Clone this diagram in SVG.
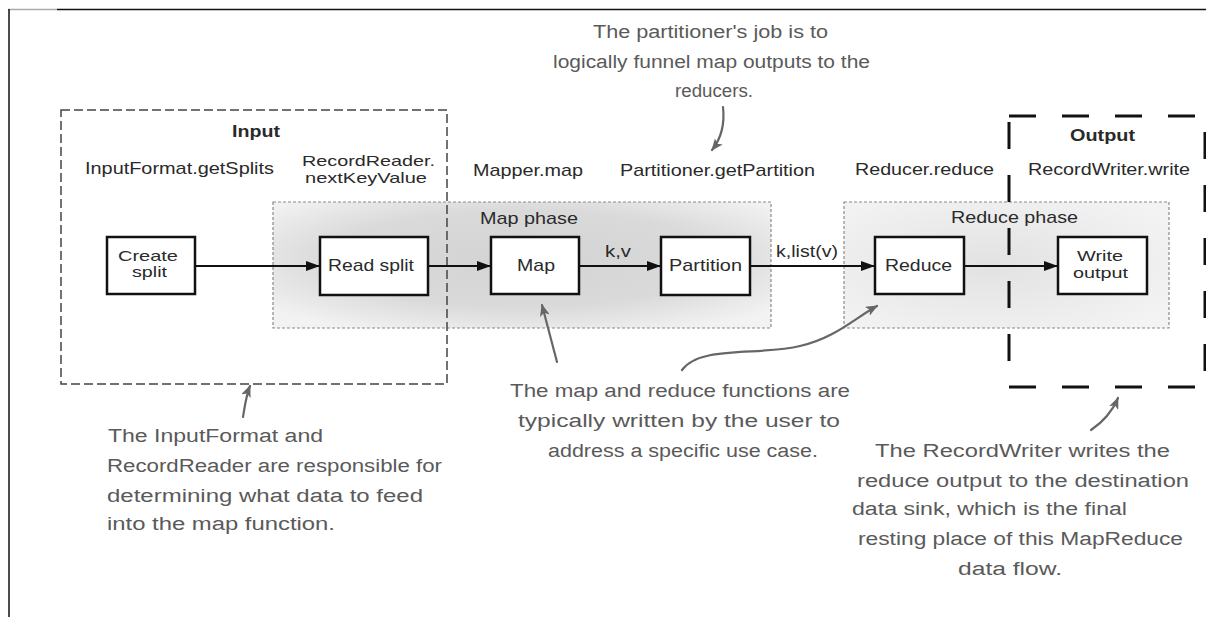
<svg xmlns="http://www.w3.org/2000/svg" width="1206" height="617" viewBox="0 0 1206 617">
<style>
.lbl{font-family:"Liberation Sans",Arial,sans-serif;font-size:17px;fill:#2a2a2a}
.two{font-size:15px}
.bold{font-weight:bold}
.note{font-family:"Liberation Sans",Arial,sans-serif;font-size:18px;fill:#5a5a5a}
.box{fill:#fff;stroke:#111;stroke-width:2.5}
.phase{stroke:#8a8a8a;stroke-width:1.2;stroke-dasharray:3 2}
.flow{stroke:#111;stroke-width:2;fill:none}
.hand{stroke:#666;stroke-width:2.2;fill:none;stroke-linecap:round}
</style>
<defs>
<marker id="ah" markerWidth="14" markerHeight="10" refX="14" refY="5" orient="auto" markerUnits="userSpaceOnUse">
<path d="M0,0 L14,5 L0,10 Z" fill="#111"/>
</marker>
<marker id="hh" markerWidth="12" markerHeight="10" refX="11" refY="5" orient="auto" markerUnits="userSpaceOnUse">
<path d="M0,0 L12,5 L0,10 L3,5 Z" fill="#666"/>
</marker>
<radialGradient id="gMap" cx="0.5" cy="0.45" r="0.65">
<stop offset="0" stop-color="#d3d3d3"/>
<stop offset="0.6" stop-color="#dadada"/>
<stop offset="1" stop-color="#f2f2f2"/>
</radialGradient>
<radialGradient id="gRed" cx="0.45" cy="0.5" r="0.65">
<stop offset="0" stop-color="#e2e2e2"/>
<stop offset="1" stop-color="#f3f3f3"/>
</radialGradient>
</defs>
<rect width="1206" height="617" fill="#fff"/>
<g id="frame">
<line x1="8" y1="9.5" x2="57" y2="9.5" stroke="#aaa" stroke-width="1.5"/>
<line x1="57" y1="9.5" x2="1206" y2="9.5" stroke="#111" stroke-width="1.5"/>
<line x1="9" y1="9" x2="9" y2="617" stroke="#111" stroke-width="1.5"/>
</g>
<g id="map-phase">
<rect x="273" y="202" width="498" height="126" fill="url(#gMap)" class="phase"/>
<text class="lbl" x="480" y="224" textLength="98" lengthAdjust="spacingAndGlyphs">Map phase</text>
</g>
<g id="reduce-phase">
<rect x="844" y="202" width="325" height="126" fill="url(#gRed)" class="phase"/>
<text class="lbl" x="951" y="223" textLength="127" lengthAdjust="spacingAndGlyphs">Reduce phase</text>
</g>
<g id="input-group">
<rect x="61" y="110" width="386" height="274" fill="none" stroke="#444" stroke-width="1.5" stroke-dasharray="9 4"/>
<text class="lbl bold" x="232" y="137" textLength="48" lengthAdjust="spacingAndGlyphs">Input</text>
<text class="lbl" x="85" y="174" textLength="189" lengthAdjust="spacingAndGlyphs">InputFormat.getSplits</text>
<text class="lbl two" x="302" y="166" textLength="133" lengthAdjust="spacingAndGlyphs">RecordReader.</text>
<text class="lbl two" x="305" y="183" textLength="122" lengthAdjust="spacingAndGlyphs">nextKeyValue</text>
</g>
<g id="output-group">
<rect x="1009" y="116" width="196" height="271" fill="none" stroke="#111" stroke-width="3" stroke-dasharray="27 26"/>
<text class="lbl bold" x="1070" y="141" textLength="65" lengthAdjust="spacingAndGlyphs">Output</text>
<text class="lbl" x="1028" y="175" textLength="162" lengthAdjust="spacingAndGlyphs">RecordWriter.write</text>
</g>
<g id="method-labels">
<text class="lbl" x="473" y="176" textLength="110" lengthAdjust="spacingAndGlyphs">Mapper.map</text>
<text class="lbl" x="620" y="176" textLength="195" lengthAdjust="spacingAndGlyphs">Partitioner.getPartition</text>
<text class="lbl" x="855" y="175" textLength="139" lengthAdjust="spacingAndGlyphs">Reducer.reduce</text>
</g>
<g id="connectors">
<line class="flow" x1="195" y1="266" x2="320" y2="266" marker-end="url(#ah)"/>
<line class="flow" x1="428" y1="266" x2="491" y2="266" marker-end="url(#ah)"/>
<line class="flow" x1="579" y1="266" x2="661" y2="266" marker-end="url(#ah)"/>
<line class="flow" x1="750" y1="266" x2="875" y2="266" marker-end="url(#ah)"/>
<line class="flow" x1="964" y1="266" x2="1058" y2="266" marker-end="url(#ah)"/>
<text class="lbl" x="605" y="257" textLength="26" lengthAdjust="spacingAndGlyphs">k,v</text>
<text class="lbl" x="776" y="257" textLength="62" lengthAdjust="spacingAndGlyphs">k,list(v)</text>
<path class="hand" d="M723,107 C725,125 720,140 712,150" marker-end="url(#hh)"/>
<path class="hand" d="M557,362 L542,305" marker-end="url(#hh)"/>
<path class="hand" d="M682,370 C700,345 760,356 800,346 C835,338 855,318 877,306" marker-end="url(#hh)"/>
<path class="hand" d="M243,417 C245,405 246,396 250,386" marker-end="url(#hh)"/>
<path class="hand" d="M1091,430 C1103,422 1112,412 1118,398" marker-end="url(#hh)"/>
</g>
<g id="create-split">
<rect class="box" x="107" y="237" width="88" height="57"/>
<text class="lbl two" x="118" y="261" textLength="60" lengthAdjust="spacingAndGlyphs">Create</text>
<text class="lbl two" x="132" y="277" textLength="35" lengthAdjust="spacingAndGlyphs">split</text>
</g>
<g id="read-split">
<rect class="box" x="320" y="237" width="108" height="58"/>
<text class="lbl" x="328" y="271" textLength="86" lengthAdjust="spacingAndGlyphs">Read split</text>
</g>
<g id="map">
<rect class="box" x="491" y="237" width="88" height="57"/>
<text class="lbl" x="517" y="271" textLength="38" lengthAdjust="spacingAndGlyphs">Map</text>
</g>
<g id="partition">
<rect class="box" x="661" y="237" width="89" height="58"/>
<text class="lbl" x="669" y="271" textLength="73" lengthAdjust="spacingAndGlyphs">Partition</text>
</g>
<g id="reduce">
<rect class="box" x="875" y="237" width="89" height="57"/>
<text class="lbl" x="885" y="271" textLength="67" lengthAdjust="spacingAndGlyphs">Reduce</text>
</g>
<g id="write-output">
<rect class="box" x="1058" y="237" width="89" height="57"/>
<text class="lbl two" x="1077" y="261" textLength="46" lengthAdjust="spacingAndGlyphs">Write</text>
<text class="lbl two" x="1073" y="278" textLength="55" lengthAdjust="spacingAndGlyphs">output</text>
</g>
<g id="note-partitioner">
<text class="note" x="593" y="38" textLength="235" lengthAdjust="spacingAndGlyphs">The partitioner's job is to</text>
<text class="note" x="553" y="68" textLength="317" lengthAdjust="spacingAndGlyphs">logically funnel map outputs to the</text>
<text class="note" x="675" y="97" textLength="78" lengthAdjust="spacingAndGlyphs">reducers.</text>
</g>
<g id="note-input">
<text class="note" x="108" y="442" textLength="215" lengthAdjust="spacingAndGlyphs">The InputFormat and</text>
<text class="note" x="107" y="472" textLength="335" lengthAdjust="spacingAndGlyphs">RecordReader are responsible for</text>
<text class="note" x="107" y="502" textLength="316" lengthAdjust="spacingAndGlyphs">determining what data to feed</text>
<text class="note" x="107" y="530" textLength="228" lengthAdjust="spacingAndGlyphs">into the map function.</text>
</g>
<g id="note-functions">
<text class="note" x="510" y="397" textLength="340" lengthAdjust="spacingAndGlyphs">The map and reduce functions are</text>
<text class="note" x="518" y="427" textLength="322" lengthAdjust="spacingAndGlyphs">typically written by the user to</text>
<text class="note" x="548" y="457" textLength="270" lengthAdjust="spacingAndGlyphs">address a specific use case.</text>
</g>
<g id="note-output">
<text class="note" x="875" y="457" textLength="295" lengthAdjust="spacingAndGlyphs">The RecordWriter writes the</text>
<text class="note" x="857" y="487" textLength="332" lengthAdjust="spacingAndGlyphs">reduce output to the destination</text>
<text class="note" x="852" y="515" textLength="275" lengthAdjust="spacingAndGlyphs">data sink, which is the final</text>
<text class="note" x="858" y="545" textLength="325" lengthAdjust="spacingAndGlyphs">resting place of this MapReduce</text>
<text class="note" x="958" y="575" textLength="104" lengthAdjust="spacingAndGlyphs">data flow.</text>
</g>
</svg>
